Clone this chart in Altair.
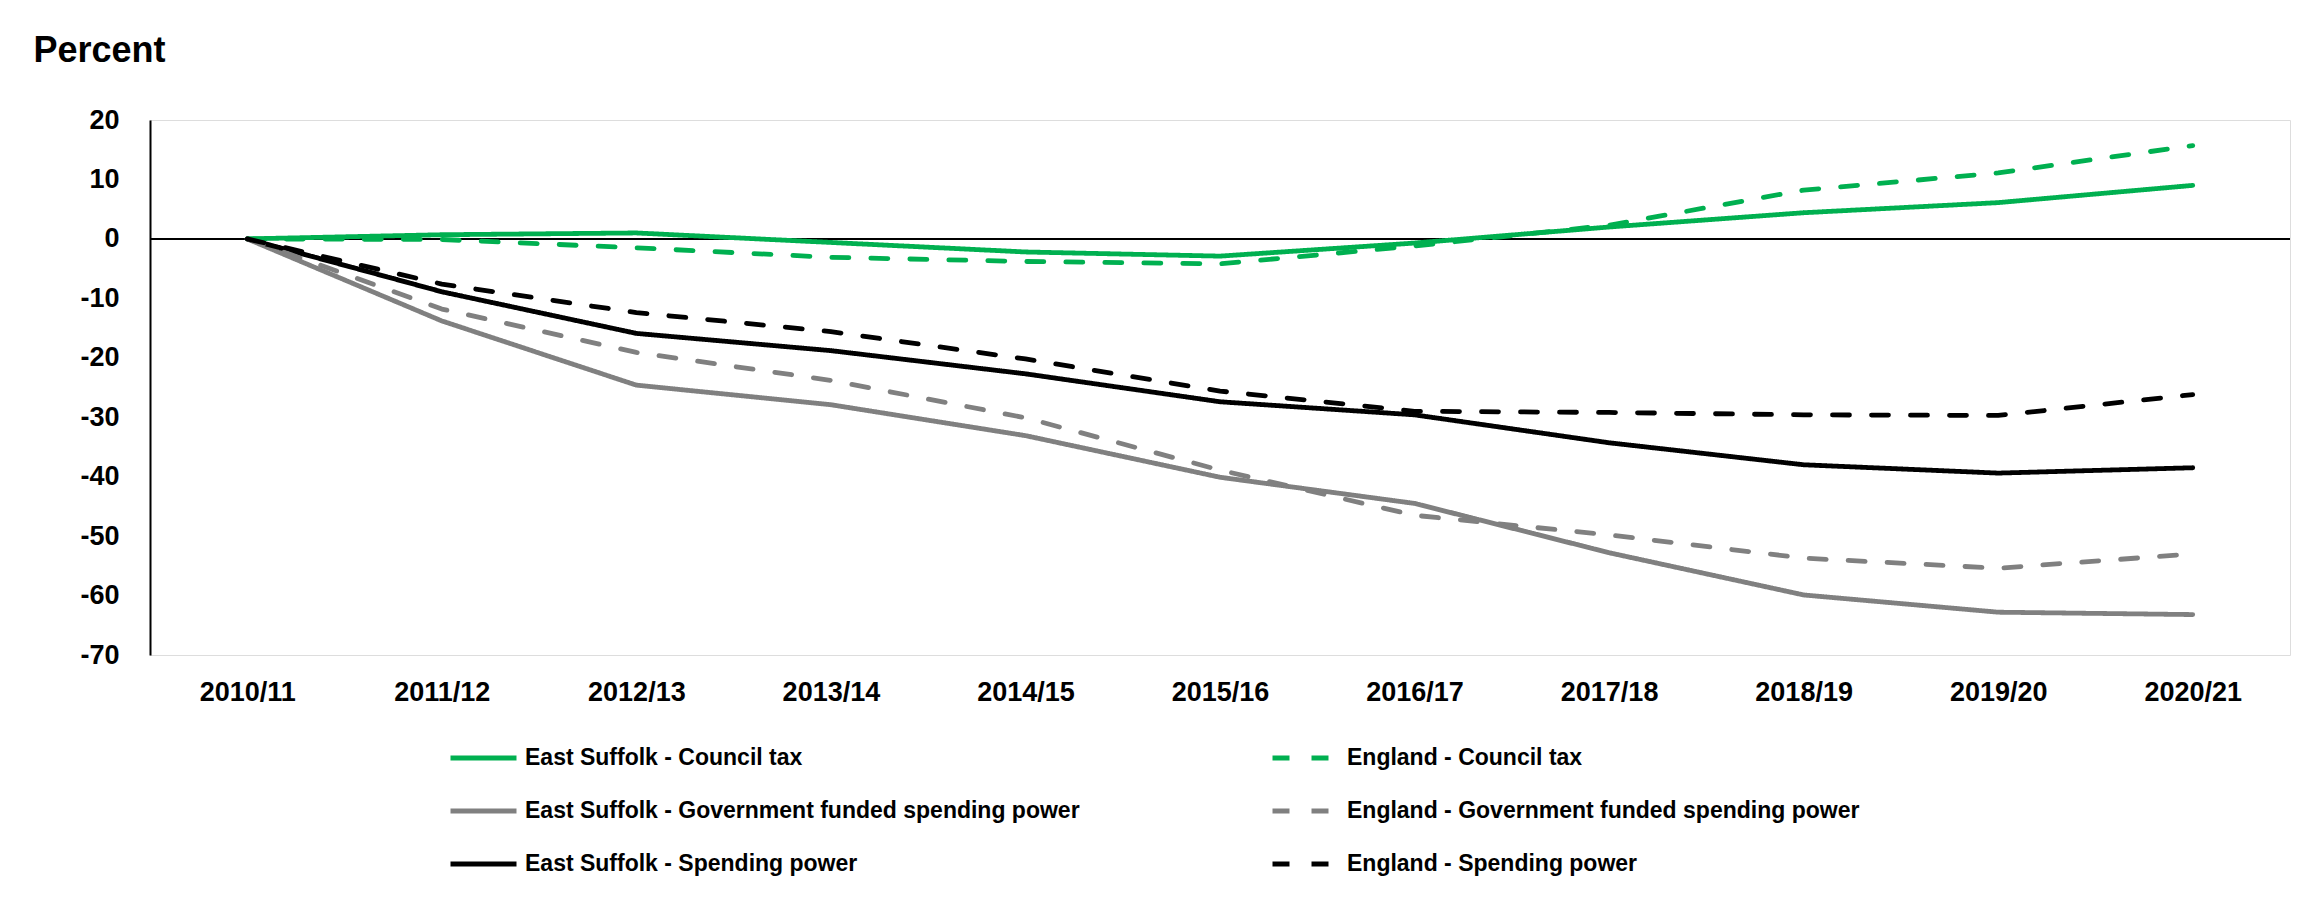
import altair as alt
import pandas as pd

years = ["2010/11", "2011/12", "2012/13", "2013/14", "2014/15", "2015/16",
         "2016/17", "2017/18", "2018/19", "2019/20", "2020/21"]

es_council_tax = [0, 0.7, 1.0, -0.6, -2.2, -2.9, -0.7, 2.0, 4.4, 6.1, 9.0]
eng_council_tax = [0, -0.1, -1.5, -3.1, -3.8, -4.2, -1.2, 2.3, 8.2, 11.1, 15.7]
es_gov_funded = [0, -13.8, -24.6, -27.9, -33.1, -40.1, -44.5, -52.8, -59.9, -62.8, -63.2]
eng_gov_funded = [0, -11.8, -19.1, -23.8, -30.1, -38.9, -46.5, -49.8, -53.7, -55.4, -53.0]
es_spending = [0, -8.9, -15.9, -18.8, -22.7, -27.4, -29.6, -34.3, -38.0, -39.4, -38.5]
eng_spending = [0, -7.6, -12.4, -15.6, -20.2, -25.6, -29.0, -29.2, -29.6, -29.7, -26.2]

# legend fills column by column: East Suffolk series first, then England
series_names = [
    "East Suffolk - Council tax",
    "East Suffolk - Government funded spending power",
    "East Suffolk - Spending power",
    "England - Council tax",
    "England - Government funded spending power",
    "England - Spending power",
]
series_values = [es_council_tax, es_gov_funded, es_spending,
                 eng_council_tax, eng_gov_funded, eng_spending]
series_colors = ["#00B050", "#808080", "#000000", "#00B050", "#808080", "#000000"]
series_dashes = [[1, 0], [1, 0], [1, 0], [17, 22], [17, 22], [17, 22]]

rows = []
for name, vals in zip(series_names, series_values):
    for yr, v in zip(years, vals):
        rows.append({"year": yr, "value": v, "series": name})
df = pd.DataFrame(rows)

FONT = "Liberation Sans"
W, H = 2140, 535

base = alt.Chart(df)

zero_rule = alt.Chart(pd.DataFrame({"z": [0]})).mark_rule(
    color="black", strokeWidth=2
).encode(y=alt.Y("z:Q", scale=alt.Scale(domain=[-70, 20], nice=False)))

lines = base.mark_line(strokeWidth=4.8, strokeCap="round", strokeJoin="round").encode(
    x=alt.X(
        "year:O", sort=years,
        scale=alt.Scale(type="point", padding=0.5),
        axis=alt.Axis(title=None, labelAngle=0, domain=False, ticks=False,
                      labelPadding=24, labelBaseline="top", labelFontSize=27,
                      labelFont=FONT, labelFontWeight="bold", labelColor="black"),
    ),
    y=alt.Y(
        "value:Q",
        scale=alt.Scale(domain=[-70, 20], nice=False, zero=False),
        axis=alt.Axis(values=list(range(-70, 30, 10)), labelExpr="'' + datum.value",
                      title="Percent", titleAngle=0, titleX=-117, titleY=-70,
                      titleAlign="left", titleBaseline="middle", titleFontSize=36,
                      titleFont=FONT, titleFontWeight="bold", titleColor="black",
                      grid=False, ticks=False, domainColor="black", domainWidth=2,
                      labelPadding=31, labelFontSize=27, labelFont=FONT,
                      labelFontWeight="bold", labelColor="black"),
    ),
    color=alt.Color("series:N", title=None,
                    scale=alt.Scale(domain=series_names, range=series_colors)),
    strokeDash=alt.StrokeDash("series:N", title=None,
                              scale=alt.Scale(domain=series_names, range=series_dashes)),
)

chart = alt.layer(zero_rule, lines).properties(
    width=W, height=H,
    autosize=alt.AutoSizeParams(type="none"),
    padding={"left": 142, "top": 112, "right": 15, "bottom": 240},
).configure_view(stroke=None).configure(background="white").configure_legend(
    orient="none", legendX=298, legendY=626, columns=2, columnPadding=190,
    rowPadding=29, padding=0, clipHeight=24, symbolType="stroke", symbolSize=4356,
    symbolStrokeWidth=4.8, labelFont=FONT, labelFontSize=23,
    labelFontWeight="bold", labelColor="black", labelOffset=6, labelLimit=800,
    symbolOffset=0,
)

chart.save("out.html", embed_options={"renderer": "svg", "actions": False})
